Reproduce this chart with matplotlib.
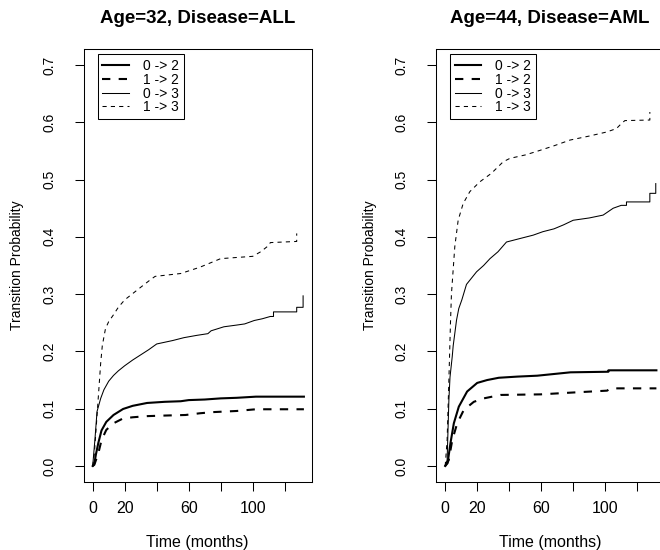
import numpy as np
import matplotlib
matplotlib.use('Agg')
import matplotlib.pyplot as plt

plt.rcParams['font.family'] = ['Liberation Sans', 'DejaVu Sans']

#
#  Transition probabilities (time in months)
#
labels = ['0 -> 2', '1 -> 2', '0 -> 3', '1 -> 3']
titles = ['Age=32, Disease=ALL', 'Age=44, Disease=AML']

# Age=32, ALL
all_t02 = [0, 1, 2, 3.5, 5.5, 8.5, 13, 19, 25, 34, 45, 55, 60, 70, 80, 90, 102, 132]
all_p02 = [0, 0.004, 0.02, 0.040, 0.062, 0.077, 0.089, 0.0995, 0.105, 0.110, 0.112, 0.113,
           0.115, 0.116, 0.118, 0.119, 0.121, 0.121]
all_t12 = [0, 1, 2, 3.5, 5.5, 8.5, 13, 19, 25, 34, 45, 58, 67, 75, 90, 102, 132]
all_p12 = [0, 0.002, 0.01, 0.022, 0.045, 0.063, 0.0745, 0.083, 0.085, 0.087, 0.088, 0.089,
           0.092, 0.094, 0.096, 0.099, 0.099]
all_t03 = [0, 1.5, 2.7, 5, 7, 10, 13, 16, 20, 25, 30, 35, 40, 45, 50, 57, 65, 72, 74, 82, 90,
           95, 101, 106, 111, 113, 113, 127.5, 127.5, 131.5, 131.5]
all_p03 = [0, 0.05, 0.095, 0.118, 0.133, 0.148, 0.158, 0.166, 0.175, 0.185, 0.194, 0.203, 0.213,
           0.216, 0.219, 0.224, 0.228, 0.231, 0.236, 0.243, 0.246, 0.248, 0.254, 0.257, 0.261,
           0.261, 0.269, 0.269, 0.277, 0.277, 0.297]
all_t13 = [0, 1, 2, 3, 4, 5, 6, 8, 10, 13, 16, 20, 25, 30, 36, 39, 55, 67, 80, 100, 105, 110,
           111, 127.5, 127.5]
all_p13 = [0, 0.02, 0.06, 0.10, 0.14, 0.18, 0.21, 0.24, 0.252, 0.264, 0.277, 0.290, 0.301,
           0.312, 0.325, 0.331, 0.336, 0.347, 0.362, 0.366, 0.374, 0.385, 0.390, 0.392, 0.406]

# Age=44, AML
aml_t02 = [0, 1.5, 3.3, 5.4, 8.5, 13.7, 20, 26.2, 33.5, 45, 57.5, 78.3, 102, 102, 132]
aml_p02 = [0, 0.005, 0.040, 0.0745, 0.1035, 0.130, 0.145, 0.150, 0.154, 0.156, 0.1576, 0.1635,
           0.1645, 0.167, 0.167]
aml_t12 = [0, 2.2, 4.4, 7.5, 11.6, 17.9, 24.1, 34.6, 59.6, 78.3, 101.2, 103.3, 132]
aml_p12 = [0, 0.01, 0.045, 0.0745, 0.0977, 0.112, 0.118, 0.124, 0.125, 0.128, 0.1315, 0.1355,
           0.1355]
aml_t03 = [0, 1.2, 2.3, 3, 4.4, 5, 7.1, 8.5, 10.4, 13.3, 19.6, 24, 28, 33, 38.3, 46.6, 55, 61,
           68, 74, 80, 90, 98.7, 105, 110, 113.3, 113.3, 127.9, 127.9, 131.6, 131.6]
aml_p03 = [0, 0.01, 0.115, 0.155, 0.191, 0.21, 0.255, 0.275, 0.29, 0.317, 0.339, 0.350, 0.362,
           0.374, 0.391, 0.397, 0.403, 0.409, 0.414, 0.421, 0.429, 0.433, 0.438, 0.450, 0.455,
           0.455, 0.461, 0.461, 0.476, 0.476, 0.493]
aml_t13 = [0, 1.2, 2.3, 3.3, 3.9, 6, 8.1, 11.2, 15.4, 21.6, 28.9, 36.2, 40.4, 50, 57, 68, 78, 90,
           100.8, 107, 110.2, 112.3, 127.9, 127.9]
aml_p13 = [0, 0.045, 0.15, 0.25, 0.30, 0.383, 0.429, 0.458, 0.479, 0.496, 0.511, 0.531, 0.537,
           0.543, 0.549, 0.559, 0.569, 0.576, 0.583, 0.589, 0.598, 0.603, 0.604, 0.618]

xticks = [0, 20, 40, 60, 80, 100, 120]
xticklabels = ['0', '20', '', '60', '', '100', '']
yticks = [0.0, 0.1, 0.2, 0.3, 0.4, 0.5, 0.6, 0.7]


def draw_panel(ax, curves, title):
    styles = [dict(lw=1.5, ls='-'), dict(lw=1.5, ls=(0, (4, 4))),
              dict(lw=0.75, ls='-'), dict(lw=0.75, ls=(0, (4, 4)))]
    handles = []
    for (t, p), st, lab in zip(curves, styles, labels):
        h, = ax.plot(t, p, color='black', linewidth=st['lw'], linestyle=st['ls'], label=lab)
        handles.append(h)

    ax.set_xlim(-5.75, 136.75)
    ax.set_ylim(-0.028, 0.728)
    ax.set_xticks(xticks)
    ax.set_xticklabels(xticklabels, fontsize=11.5)
    ax.set_yticks(yticks)
    ax.set_yticklabels(['%.1f' % v for v in yticks], fontsize=10, rotation=90, va='center')
    ax.tick_params(direction='out', length=6.5, width=0.75, color='black')
    ax.tick_params(axis='x', pad=7)
    ax.tick_params(axis='y', pad=13)
    for s in ax.spines.values():
        s.set_linewidth(0.75)
        s.set_color('black')

    ax.set_xlabel('Time (months)', fontsize=11.5, labelpad=14)
    ax.set_ylabel('Transition Probability', fontsize=10, labelpad=13)
    ax.set_title(title, fontsize=13.5, fontweight='bold', pad=19)

    leg = ax.legend(handles=handles, loc='upper left', bbox_to_anchor=(0.062, 0.988),
                    fontsize=10, frameon=True, fancybox=False, framealpha=1,
                    edgecolor='black', borderpad=0.35, borderaxespad=0, labelspacing=-0.02,
                    handlelength=1.9, handletextpad=1.0)
    leg.get_frame().set_linewidth(0.75)


fig = plt.figure(figsize=(6.6, 5.5), dpi=100)
ax1 = fig.add_axes([83.5 / 660, 68 / 550, 228 / 660, 433 / 550])
ax2 = fig.add_axes([436 / 660, 68 / 550, 228 / 660, 433 / 550])

draw_panel(ax1, [(all_t02, all_p02), (all_t12, all_p12), (all_t03, all_p03), (all_t13, all_p13)], titles[0])
draw_panel(ax2, [(aml_t02, aml_p02), (aml_t12, aml_p12), (aml_t03, aml_p03), (aml_t13, aml_p13)], titles[1])

fig.savefig('out.png', dpi=100)
